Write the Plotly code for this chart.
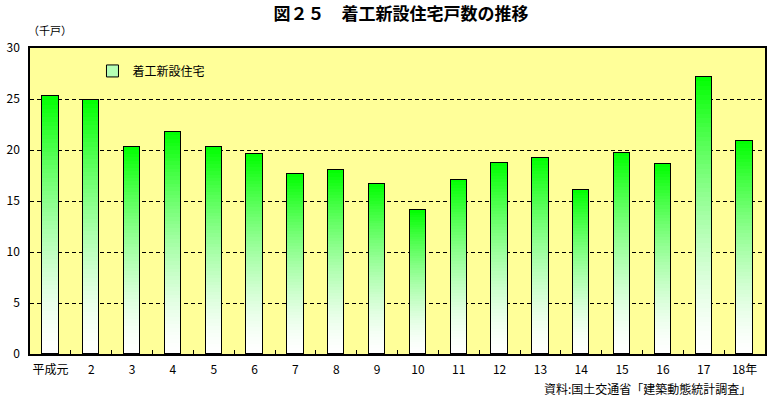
import plotly.graph_objects as go

categories = ["平成元", "2", "3", "4", "5", "6", "7", "8", "9", "10",
              "11", "12", "13", "14", "15", "16", "17", "18年"]
values = [25.3, 24.9, 20.3, 21.8, 20.3, 19.6, 17.6, 18.0, 16.7, 14.1,
          17.1, 18.7, 19.2, 16.1, 19.7, 18.6, 27.2, 20.9]
series_name = "着工新設住宅"
y_ticks = [0, 5, 10, 15, 20, 25, 30]

FONT = "Noto Sans CJK JP, Noto Sans, sans-serif"
N = 60

fig = go.Figure()

# gradient bars: stacked slices, white at bottom -> green at top
for k in range(N):
    t = (k + 0.5) / N
    s = t ** 1.5
    r = round(255 * (1 - s))
    b = round(255 * (1 - s))
    fig.add_trace(go.Bar(
        x=categories, y=[v / N for v in values],
        marker=dict(color=f"rgb({r},255,{b})", line=dict(width=0)),
        width=0.4, showlegend=False, hoverinfo="skip", xaxis="x", yaxis="y"))

# outline of each bar
fig.add_trace(go.Bar(
    x=categories, y=values, width=0.4,
    marker=dict(color="rgba(0,0,0,0)", line=dict(color="black", width=1.3)),
    showlegend=False, xaxis="x2", yaxis="y"))

# legend entry
fig.add_trace(go.Bar(
    x=[None], y=[None], name=series_name,
    marker=dict(color="#b5ffb5", line=dict(color="black", width=1)),
    showlegend=True, xaxis="x2", yaxis="y"))

fig.update_layout(
    width=774, height=404,
    margin=dict(l=24, r=7, t=48, b=50),
    paper_bgcolor="white", plot_bgcolor="#FFFF99",
    barmode="stack", bargap=0,
    font=dict(family=FONT, size=12, color="black"),
    title=dict(text="<b>図２５　着工新設住宅戸数の推移</b>", x=0.518, xanchor="center",
               y=0.965, yanchor="middle", font=dict(size=17, family=FONT)),
    xaxis=dict(type="category", categoryorder="array", categoryarray=categories,
               range=[-0.5, len(categories) - 0.5], tickangle=0,
               showline=True, linecolor="black", linewidth=1.5, mirror=True,
               ticks="inside", ticklen=4, tickcolor="black", tickson="boundaries",
               showgrid=False, tickfont=dict(size=12), ticklabelstandoff=4),
    xaxis2=dict(type="category", categoryorder="array", categoryarray=categories,
                range=[-0.5, len(categories) - 0.5],
                overlaying="x", showticklabels=False, showline=False,
                showgrid=False, ticks="", matches="x"),
    yaxis=dict(range=[0, 30], tickvals=y_ticks, showgrid=True,
               gridcolor="black", griddash="4px,3px", gridwidth=1,
               showline=True, linecolor="black", linewidth=1.5, mirror=True,
               ticks="", zeroline=False, tickfont=dict(size=12),
               ticklabelstandoff=6),
    legend=dict(x=0.085, y=0.925, xanchor="left", yanchor="middle",
                bgcolor="rgba(0,0,0,0)", font=dict(size=12),
                itemwidth=30, tracegroupgap=0),
    showlegend=True,
    annotations=[
        dict(text="（千戸）", xref="paper", yref="paper", x=-0.006, y=(354 - 30) / 306,
             xanchor="left", yanchor="middle", showarrow=False, font=dict(size=11)),
        dict(text="資料:国土交通省「建築動態統計調査」", xref="paper", yref="paper",
             x=(755 - 24) / 743, y=(354 - 388) / 306, xanchor="right", yanchor="middle",
             showarrow=False, font=dict(size=12)),
    ],
)

fig.write_html("out.html")
